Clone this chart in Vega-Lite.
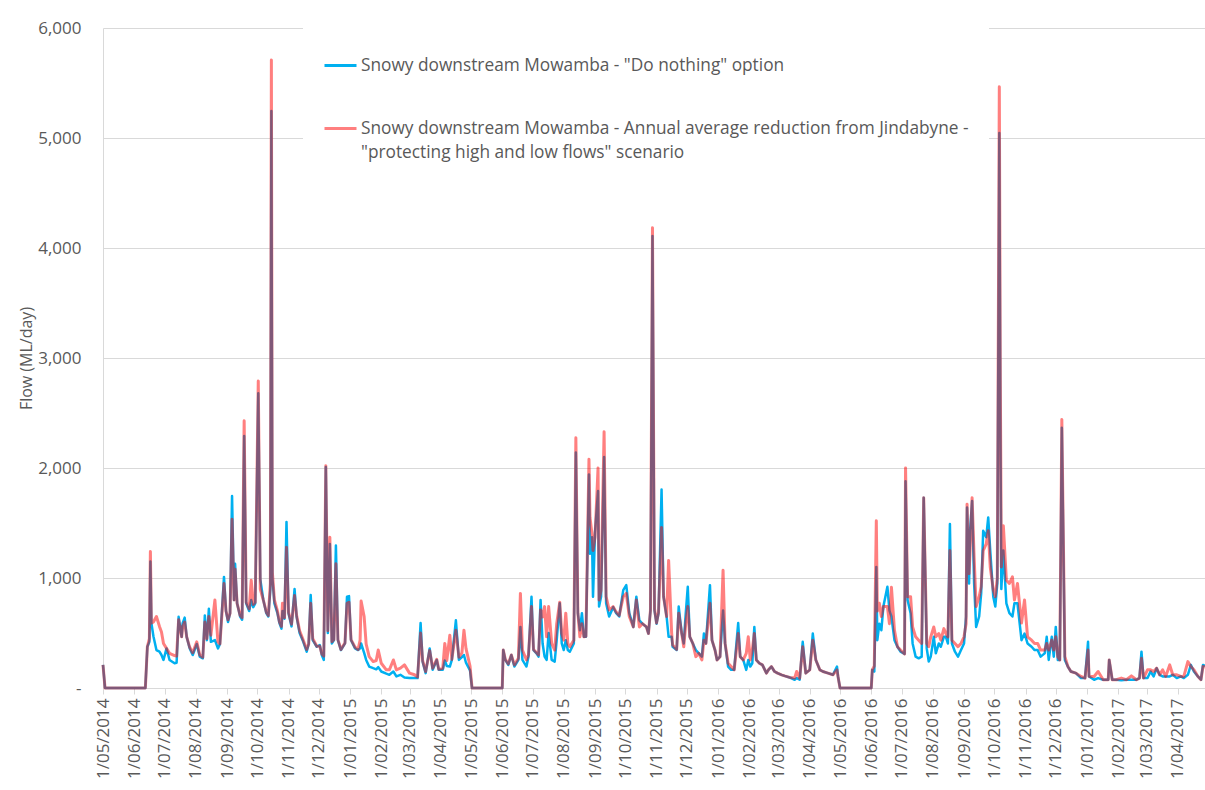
{
  "$schema": "https://vega.github.io/schema/vega-lite/v6.json",
  "width": 1102,
  "height": 660,
  "autosize": {"type": "none"},
  "padding": {"left": 103, "top": 28, "right": 0, "bottom": 102},
  "background": "white",
  "config": {
    "font": "Open Sans",
    "view": {"stroke": null},
    "style": {"guide-label": {"lineHeight": 24}}
  },
  "data": {"values": [
    {"d":"2014-05-01","a":210,"b":210},{"d":"2014-05-03","a":0,"b":0},{"d":"2014-06-12","a":0,"b":0},{"d":"2014-06-14","a":375,"b":375},{"d":"2014-06-16","a":420,"b":450},{"d":"2014-06-17","a":1150,"b":1240},{"d":"2014-06-18","a":590,"b":590},{"d":"2014-06-20","a":470,"b":600},{"d":"2014-06-23","a":345,"b":650},{"d":"2014-06-26","a":330,"b":560},{"d":"2014-06-28","a":300,"b":510},{"d":"2014-06-30","a":255,"b":405},{"d":"2014-07-03","a":360,"b":360},{"d":"2014-07-06","a":255,"b":315},{"d":"2014-07-11","a":225,"b":295},{"d":"2014-07-13","a":230,"b":290},{"d":"2014-07-15","a":647,"b":620},{"d":"2014-07-18","a":465,"b":465},{"d":"2014-07-19","a":590,"b":560},{"d":"2014-07-21","a":640,"b":600},{"d":"2014-07-23","a":465,"b":465},{"d":"2014-07-26","a":360,"b":370},{"d":"2014-07-29","a":300,"b":320},{"d":"2014-08-02","a":400,"b":420},{"d":"2014-08-05","a":285,"b":300},{"d":"2014-08-08","a":270,"b":280},{"d":"2014-08-10","a":660,"b":600},{"d":"2014-08-12","a":435,"b":450},{"d":"2014-08-14","a":720,"b":650},{"d":"2014-08-16","a":420,"b":480},{"d":"2014-08-20","a":435,"b":800},{"d":"2014-08-23","a":360,"b":420},{"d":"2014-08-25","a":400,"b":400},{"d":"2014-08-29","a":1010,"b":950},{"d":"2014-08-31","a":700,"b":700},{"d":"2014-09-02","a":600,"b":620},{"d":"2014-09-04","a":680,"b":680},{"d":"2014-09-06","a":1745,"b":1535},{"d":"2014-09-08","a":800,"b":800},{"d":"2014-09-09","a":1130,"b":1080},{"d":"2014-09-11","a":770,"b":770},{"d":"2014-09-14","a":650,"b":660},{"d":"2014-09-16","a":620,"b":640},{"d":"2014-09-18","a":2290,"b":2430},{"d":"2014-09-20","a":770,"b":780},{"d":"2014-09-23","a":700,"b":720},{"d":"2014-09-25","a":800,"b":980},{"d":"2014-09-27","a":735,"b":760},{"d":"2014-09-29","a":770,"b":780},{"d":"2014-10-02","a":2680,"b":2790},{"d":"2014-10-04","a":990,"b":900},{"d":"2014-10-07","a":800,"b":800},{"d":"2014-10-10","a":680,"b":690},{"d":"2014-10-12","a":650,"b":660},{"d":"2014-10-14","a":900,"b":950},{"d":"2014-10-15","a":5245,"b":5710},{"d":"2014-10-16","a":1000,"b":1050},{"d":"2014-10-18","a":770,"b":800},{"d":"2014-10-21","a":680,"b":700},{"d":"2014-10-23","a":590,"b":600},{"d":"2014-10-25","a":540,"b":560},{"d":"2014-10-26","a":700,"b":770},{"d":"2014-10-28","a":630,"b":640},{"d":"2014-10-30","a":1510,"b":1280},{"d":"2014-11-01","a":680,"b":690},{"d":"2014-11-04","a":560,"b":580},{"d":"2014-11-07","a":900,"b":840},{"d":"2014-11-09","a":650,"b":660},{"d":"2014-11-12","a":500,"b":520},{"d":"2014-11-15","a":435,"b":450},{"d":"2014-11-19","a":330,"b":350},{"d":"2014-11-21","a":400,"b":400},{"d":"2014-11-23","a":845,"b":770},{"d":"2014-11-25","a":435,"b":450},{"d":"2014-11-29","a":375,"b":380},{"d":"2014-12-02","a":390,"b":380},{"d":"2014-12-04","a":300,"b":310},{"d":"2014-12-06","a":255,"b":290},{"d":"2014-12-08","a":2010,"b":2020},{"d":"2014-12-10","a":500,"b":520},{"d":"2014-12-12","a":1310,"b":1370},{"d":"2014-12-14","a":405,"b":420},{"d":"2014-12-16","a":435,"b":440},{"d":"2014-12-18","a":1295,"b":1130},{"d":"2014-12-20","a":435,"b":440},{"d":"2014-12-23","a":345,"b":350},{"d":"2014-12-27","a":405,"b":410},{"d":"2014-12-29","a":830,"b":770},{"d":"2014-12-31","a":835,"b":780},{"d":"2015-01-02","a":435,"b":440},{"d":"2015-01-06","a":360,"b":370},{"d":"2015-01-09","a":345,"b":350},{"d":"2015-01-11","a":360,"b":435},{"d":"2015-01-12","a":405,"b":790},{"d":"2015-01-15","a":320,"b":650},{"d":"2015-01-17","a":255,"b":400},{"d":"2015-01-20","a":195,"b":285},{"d":"2015-01-24","a":180,"b":240},{"d":"2015-01-27","a":170,"b":250},{"d":"2015-01-29","a":190,"b":345},{"d":"2015-02-01","a":150,"b":225},{"d":"2015-02-06","a":130,"b":165},{"d":"2015-02-09","a":120,"b":165},{"d":"2015-02-13","a":150,"b":255},{"d":"2015-02-16","a":105,"b":165},{"d":"2015-02-20","a":120,"b":180},{"d":"2015-02-24","a":96,"b":210},{"d":"2015-03-01","a":90,"b":135},{"d":"2015-03-06","a":90,"b":120},{"d":"2015-03-09","a":90,"b":100},{"d":"2015-03-12","a":590,"b":500},{"d":"2015-03-14","a":240,"b":250},{"d":"2015-03-17","a":135,"b":150},{"d":"2015-03-21","a":360,"b":340},{"d":"2015-03-24","a":165,"b":180},{"d":"2015-03-28","a":255,"b":260},{"d":"2015-03-30","a":165,"b":170},{"d":"2015-04-03","a":165,"b":180},{"d":"2015-04-05","a":250,"b":405},{"d":"2015-04-07","a":200,"b":250},{"d":"2015-04-10","a":195,"b":480},{"d":"2015-04-12","a":255,"b":260},{"d":"2015-04-16","a":615,"b":525},{"d":"2015-04-19","a":255,"b":280},{"d":"2015-04-22","a":280,"b":320},{"d":"2015-04-24","a":300,"b":525},{"d":"2015-04-26","a":230,"b":360},{"d":"2015-04-30","a":160,"b":200},{"d":"2015-05-02","a":0,"b":0},{"d":"2015-06-01","a":0,"b":0},
    {"d":"2015-06-02","a":345,"b":345},{"d":"2015-06-04","a":255,"b":260},{"d":"2015-06-07","a":210,"b":220},{"d":"2015-06-10","a":300,"b":300},{"d":"2015-06-13","a":195,"b":210},{"d":"2015-06-17","a":255,"b":270},{"d":"2015-06-19","a":555,"b":860},{"d":"2015-06-21","a":255,"b":345},{"d":"2015-06-25","a":195,"b":255},{"d":"2015-06-27","a":285,"b":300},{"d":"2015-06-30","a":830,"b":740},{"d":"2015-07-02","a":345,"b":350},{"d":"2015-07-05","a":315,"b":320},{"d":"2015-07-07","a":285,"b":300},{"d":"2015-07-09","a":800,"b":710},{"d":"2015-07-11","a":405,"b":645},{"d":"2015-07-13","a":285,"b":740},{"d":"2015-07-15","a":255,"b":465},{"d":"2015-07-17","a":500,"b":740},{"d":"2015-07-20","a":255,"b":405},{"d":"2015-07-23","a":240,"b":345},{"d":"2015-07-25","a":435,"b":585},{"d":"2015-07-28","a":770,"b":780},{"d":"2015-07-30","a":405,"b":495},{"d":"2015-08-01","a":345,"b":435},{"d":"2015-08-03","a":435,"b":680},{"d":"2015-08-05","a":345,"b":405},{"d":"2015-08-07","a":330,"b":375},{"d":"2015-08-11","a":405,"b":435},{"d":"2015-08-13","a":2140,"b":2275},{"d":"2015-08-15","a":680,"b":680},{"d":"2015-08-17","a":525,"b":465},{"d":"2015-08-19","a":680,"b":585},{"d":"2015-08-21","a":465,"b":465},{"d":"2015-08-23","a":465,"b":470},{"d":"2015-08-26","a":1940,"b":2080},{"d":"2015-08-27","a":1220,"b":1550},{"d":"2015-08-29","a":1370,"b":1400},{"d":"2015-08-30","a":830,"b":1250},{"d":"2015-09-01","a":1415,"b":1370},{"d":"2015-09-04","a":1790,"b":2000},{"d":"2015-09-05","a":740,"b":800},{"d":"2015-09-07","a":830,"b":890},{"d":"2015-09-10","a":2100,"b":2330},{"d":"2015-09-12","a":770,"b":830},{"d":"2015-09-15","a":650,"b":710},{"d":"2015-09-19","a":735,"b":740},{"d":"2015-09-22","a":680,"b":690},{"d":"2015-09-25","a":650,"b":660},{"d":"2015-09-29","a":890,"b":830},{"d":"2015-10-02","a":935,"b":860},{"d":"2015-10-05","a":680,"b":650},{"d":"2015-10-09","a":555,"b":555},{"d":"2015-10-12","a":830,"b":800},{"d":"2015-10-15","a":615,"b":555},{"d":"2015-10-18","a":585,"b":585},{"d":"2015-10-22","a":555,"b":555},{"d":"2015-10-24","a":495,"b":495},{"d":"2015-10-26","a":705,"b":705},{"d":"2015-10-28","a":4110,"b":4185},{"d":"2015-10-30","a":705,"b":720},{"d":"2015-11-01","a":585,"b":590},{"d":"2015-11-03","a":680,"b":690},{"d":"2015-11-06","a":1805,"b":1460},{"d":"2015-11-08","a":830,"b":830},{"d":"2015-11-11","a":650,"b":650},{"d":"2015-11-13","a":465,"b":1160},{"d":"2015-11-16","a":465,"b":500},{"d":"2015-11-17","a":375,"b":390},{"d":"2015-11-21","a":345,"b":350},{"d":"2015-11-23","a":740,"b":680},{"d":"2015-11-26","a":495,"b":495},{"d":"2015-11-28","a":405,"b":375},{"d":"2015-11-30","a":680,"b":585},{"d":"2015-12-02","a":920,"b":740},{"d":"2015-12-04","a":465,"b":465},{"d":"2015-12-07","a":405,"b":405},{"d":"2015-12-10","a":345,"b":285},{"d":"2015-12-13","a":315,"b":315},{"d":"2015-12-16","a":285,"b":255},{"d":"2015-12-18","a":495,"b":435},{"d":"2015-12-20","a":405,"b":405},{"d":"2015-12-24","a":935,"b":770},{"d":"2015-12-26","a":435,"b":435},{"d":"2015-12-29","a":345,"b":345},{"d":"2015-12-31","a":255,"b":255},{"d":"2016-01-03","a":285,"b":285},{"d":"2016-01-06","a":705,"b":1070},{"d":"2016-01-08","a":405,"b":405},{"d":"2016-01-11","a":195,"b":225},{"d":"2016-01-14","a":165,"b":195},{"d":"2016-01-17","a":165,"b":165},{"d":"2016-01-21","a":590,"b":495},{"d":"2016-01-23","a":285,"b":285},{"d":"2016-01-26","a":255,"b":255},{"d":"2016-01-29","a":165,"b":315},{"d":"2016-01-31","a":255,"b":465},{"d":"2016-02-02","a":195,"b":255},{"d":"2016-02-04","a":225,"b":345},{"d":"2016-02-06","a":555,"b":495},{"d":"2016-02-08","a":255,"b":255},{"d":"2016-02-11","a":225,"b":225},{"d":"2016-02-14","a":210,"b":210},{"d":"2016-02-18","a":135,"b":135},{"d":"2016-02-20","a":165,"b":165},{"d":"2016-02-23","a":195,"b":195},{"d":"2016-02-26","a":150,"b":150},{"d":"2016-02-29","a":135,"b":135},{"d":"2016-03-04","a":120,"b":120},{"d":"2016-03-07","a":110,"b":110},{"d":"2016-03-12","a":96,"b":96},{"d":"2016-03-17","a":75,"b":90},{"d":"2016-03-19","a":90,"b":150},{"d":"2016-03-22","a":75,"b":90},{"d":"2016-03-25","a":420,"b":375},{"d":"2016-03-28","a":135,"b":135},{"d":"2016-04-01","a":165,"b":165},{"d":"2016-04-04","a":495,"b":435},{"d":"2016-04-07","a":255,"b":255},{"d":"2016-04-11","a":165,"b":165},{"d":"2016-04-14","a":150,"b":150},{"d":"2016-04-19","a":135,"b":135},{"d":"2016-04-24","a":120,"b":120},{"d":"2016-04-28","a":195,"b":165},{"d":"2016-04-29","a":105,"b":105},{"d":"2016-05-01","a":0,"b":0},{"d":"2016-06-01","a":0,"b":0},
    {"d":"2016-06-02","a":165,"b":165},{"d":"2016-06-04","a":150,"b":200},{"d":"2016-06-06","a":1100,"b":1520},{"d":"2016-06-07","a":435,"b":700},{"d":"2016-06-09","a":585,"b":770},{"d":"2016-06-11","a":525,"b":650},{"d":"2016-06-13","a":740,"b":740},{"d":"2016-06-17","a":920,"b":740},{"d":"2016-06-19","a":705,"b":585},{"d":"2016-06-21","a":650,"b":915},{"d":"2016-06-24","a":435,"b":525},{"d":"2016-06-27","a":375,"b":375},{"d":"2016-06-30","a":330,"b":345},{"d":"2016-07-04","a":310,"b":310},{"d":"2016-07-05","a":1880,"b":2000},{"d":"2016-07-07","a":800,"b":830},{"d":"2016-07-10","a":680,"b":830},{"d":"2016-07-12","a":405,"b":555},{"d":"2016-07-15","a":285,"b":465},{"d":"2016-07-18","a":270,"b":435},{"d":"2016-07-21","a":285,"b":405},{"d":"2016-07-23","a":1730,"b":1730},{"d":"2016-07-26","a":360,"b":405},{"d":"2016-07-28","a":240,"b":375},{"d":"2016-07-30","a":285,"b":465},{"d":"2016-08-02","a":465,"b":555},{"d":"2016-08-04","a":315,"b":465},{"d":"2016-08-07","a":405,"b":495},{"d":"2016-08-09","a":375,"b":435},{"d":"2016-08-12","a":465,"b":540},{"d":"2016-08-14","a":465,"b":495},{"d":"2016-08-16","a":405,"b":465},{"d":"2016-08-18","a":1490,"b":1250},{"d":"2016-08-20","a":405,"b":435},{"d":"2016-08-23","a":330,"b":405},{"d":"2016-08-26","a":285,"b":375},{"d":"2016-08-29","a":345,"b":405},{"d":"2016-09-01","a":405,"b":465},{"d":"2016-09-03","a":650,"b":585},{"d":"2016-09-04","a":1640,"b":1670},{"d":"2016-09-06","a":950,"b":1040},{"d":"2016-09-07","a":1430,"b":1250},{"d":"2016-09-09","a":1700,"b":1730},{"d":"2016-09-11","a":950,"b":1190},{"d":"2016-09-13","a":555,"b":740},{"d":"2016-09-16","a":650,"b":830},{"d":"2016-09-18","a":860,"b":920},{"d":"2016-09-20","a":1430,"b":1250},{"d":"2016-09-23","a":1370,"b":1310},{"d":"2016-09-25","a":1550,"b":1430},{"d":"2016-09-27","a":1250,"b":1100},{"d":"2016-09-30","a":830,"b":890},{"d":"2016-10-02","a":740,"b":830},{"d":"2016-10-04","a":950,"b":1000},{"d":"2016-10-06","a":5045,"b":5465},{"d":"2016-10-07","a":2500,"b":2800},{"d":"2016-10-08","a":900,"b":1100},{"d":"2016-10-10","a":1250,"b":1475},{"d":"2016-10-13","a":770,"b":980},{"d":"2016-10-16","a":680,"b":950},{"d":"2016-10-19","a":650,"b":1010},{"d":"2016-10-21","a":770,"b":800},{"d":"2016-10-24","a":770,"b":950},{"d":"2016-10-28","a":435,"b":590},{"d":"2016-10-31","a":495,"b":800},{"d":"2016-11-03","a":405,"b":465},{"d":"2016-11-07","a":375,"b":435},{"d":"2016-11-10","a":345,"b":405},{"d":"2016-11-13","a":345,"b":405},{"d":"2016-11-16","a":285,"b":345},{"d":"2016-11-20","a":315,"b":345},{"d":"2016-11-22","a":465,"b":405},{"d":"2016-11-24","a":255,"b":345},{"d":"2016-11-27","a":465,"b":435},{"d":"2016-11-29","a":285,"b":345},{"d":"2016-12-01","a":555,"b":465},{"d":"2016-12-03","a":255,"b":285},{"d":"2016-12-05","a":255,"b":255},{"d":"2016-12-07","a":2365,"b":2440},{"d":"2016-12-10","a":255,"b":285},{"d":"2016-12-13","a":195,"b":195},{"d":"2016-12-16","a":150,"b":150},{"d":"2016-12-21","a":135,"b":135},{"d":"2016-12-26","a":90,"b":105},{"d":"2016-12-30","a":90,"b":90},{"d":"2017-01-02","a":420,"b":345},{"d":"2017-01-03","a":105,"b":105},{"d":"2017-01-08","a":75,"b":105},{"d":"2017-01-12","a":90,"b":150},{"d":"2017-01-17","a":75,"b":75},{"d":"2017-01-22","a":75,"b":75},{"d":"2017-01-23","a":255,"b":255},{"d":"2017-01-26","a":75,"b":75},{"d":"2017-01-30","a":75,"b":75},{"d":"2017-02-04","a":70,"b":90},{"d":"2017-02-09","a":75,"b":75},{"d":"2017-02-14","a":75,"b":110},{"d":"2017-02-19","a":75,"b":75},{"d":"2017-02-22","a":90,"b":90},{"d":"2017-02-24","a":330,"b":270},{"d":"2017-02-26","a":90,"b":90},{"d":"2017-03-02","a":90,"b":165},{"d":"2017-03-05","a":150,"b":165},{"d":"2017-03-08","a":105,"b":150},{"d":"2017-03-11","a":180,"b":180},{"d":"2017-03-14","a":120,"b":120},{"d":"2017-03-17","a":105,"b":165},{"d":"2017-03-20","a":105,"b":105},{"d":"2017-03-24","a":105,"b":210},{"d":"2017-03-27","a":120,"b":120},{"d":"2017-03-31","a":90,"b":120},{"d":"2017-04-04","a":105,"b":105},{"d":"2017-04-07","a":90,"b":105},{"d":"2017-04-11","a":120,"b":240},{"d":"2017-04-14","a":210,"b":195},{"d":"2017-04-17","a":150,"b":165},{"d":"2017-04-21","a":105,"b":105},{"d":"2017-04-24","a":75,"b":75},{"d":"2017-04-26","a":210,"b":195},{"d":"2017-04-28","a":200,"b":190}
  ]},
  "encoding": {
    "x": {
      "field": "d", "type": "temporal",
      "scale": {"type": "utc", "domain": [{"year": 2014, "month": 5, "date": 1, "utc": true}, {"year": 2017, "month": 4, "date": 28, "utc": true}]},
      "axis": {
        "title": null, "grid": false, "format": "%-d/%m/%Y",
        "tickCount": {"interval": "month", "step": 1},
        "labelAngle": -90, "labelFontSize": 17, "labelColor": "#595959",
        "labelFlush": false, "labelOverlap": false, "labelBound": false, "labelPadding": 4,
        "domainColor": "#D9D9D9", "tickColor": "#D9D9D9", "tickSize": 6
      }
    }
  },
  "layer": [
    {
      "mark": {"type": "line", "strokeWidth": 2.5, "strokeJoin": "round"},
      "encoding": {
        "y": {
          "field": "a", "type": "quantitative", "title": "Flow (ML/day)",
          "scale": {"domain": [0, 6000], "nice": false},
          "axis": {
            "values": [0, 1000, 2000, 3000, 4000, 5000, 6000],
            "labelExpr": "datum.value == 0 ? '-\u00a0\u00a0\u00a0' : format(datum.value, ',')",
            "grid": true, "gridColor": "#D9D9D9", "domainColor": "#D9D9D9", "ticks": false,
            "labelPadding": 22, "labelFontSize": 17, "labelColor": "#595959",
            "titleFontSize": 16, "titleFontWeight": "normal", "titleColor": "#595959", "titlePadding": 3
          }
        },
        "color": {
          "datum": "Snowy downstream Mowamba - \"Do nothing\" option",
          "scale": {
            "domain": ["Snowy downstream Mowamba - \"Do nothing\" option", "Snowy downstream Mowamba - Annual average reduction from Jindabyne - \"protecting high and low flows\" scenario"],
            "range": ["#00B0F0", "rgba(255,0,0,0.5)"]
          },
          "legend": {
            "title": null, "orient": "none", "legendX": 200, "legendY": 0, "direction": "vertical",
            "fillColor": "white", "padding": 20, "rowPadding": 37,
            "symbolType": "stroke", "symbolSize": 1024, "symbolStrokeWidth": 3,
            "labelFontSize": 17.3, "labelColor": "#595959", "labelLimit": 1000, "labelOffset": 3,
            "labelExpr": "indexof(datum.label, 'Annual') > 0 ? ['Snowy downstream Mowamba - Annual average reduction from Jindabyne -', '\"protecting high and low flows\" scenario'] : datum.label"
          }
        }
      }
    },
    {
      "mark": {"type": "line", "strokeWidth": 3, "strokeJoin": "round"},
      "encoding": {
        "y": {"field": "b", "type": "quantitative", "title": "Flow (ML/day)"},
        "color": {"datum": "Snowy downstream Mowamba - Annual average reduction from Jindabyne - \"protecting high and low flows\" scenario"}
      }
    }
  ]
}
